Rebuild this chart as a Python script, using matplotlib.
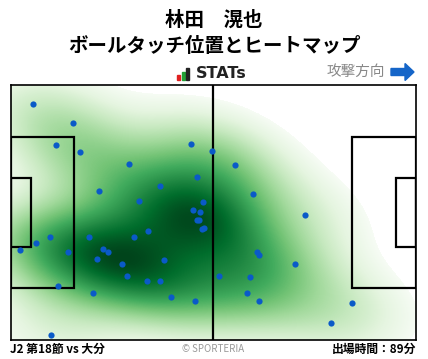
import numpy as np
import matplotlib
matplotlib.use("Agg")
from matplotlib import pyplot as plt
from matplotlib.patches import Rectangle, FancyArrow

plt.rcParams['font.family'] = ['Noto Sans CJK JP', 'DejaVu Sans']

# ball touch positions, pitch metres (x: own goal -> attacking goal, y: from bottom touchline)
touch_x = [5.8, 16.2, 11.8, 18.0, 30.7, 46.7, 52.2, 58.1, 48.3, 38.7,
           22.9, 62.8, 33.3, 49.8, 47.3, 49.1, 48.3, 48.8, 49.6, 50.1,
           76.2, 35.6, 32.0, 20.3, 10.2, 6.6, 2.5, 23.9, 25.2, 14.9,
           22.4, 28.9, 39.7, 63.8, 64.3, 73.7, 54.0, 62.0, 30.2, 35.3,
           38.7, 12.3, 21.4, 41.6, 47.8, 61.2, 64.3, 88.4, 83.0, 10.5]
touch_y = [62.9, 57.9, 52.0, 50.1, 46.9, 52.3, 50.4, 46.7, 43.5, 41.1,
           39.7, 38.9, 37.1, 36.8, 34.7, 34.1, 32.0, 32.0, 29.6, 29.9,
           33.3, 29.1, 27.5, 27.5, 27.5, 25.9, 24.0, 24.3, 23.5, 23.5,
           21.6, 20.3, 21.3, 23.5, 22.7, 20.3, 17.1, 16.8, 17.1, 15.7,
           15.7, 14.4, 12.5, 11.5, 10.4, 12.5, 10.4, 9.9, 4.5, 1.3]

player = "林田　滉也"
subtitle = "ボールタッチ位置とヒートマップ"
match_label = "J2 第18節 vs 大分"
minutes_label = "出場時間：89分"

L, W = 105.0, 68.0

fig = plt.figure(figsize=(4.28, 3.59), dpi=100)
ax = fig.add_axes([10.5/428, 19/359, 405.5/428, 255/359])

# gaussian kde (scott factor)
pts = np.vstack([touch_x, touch_y])
n = pts.shape[1]
cov = np.cov(pts) * (1.05 * n ** (-1.0 / 6)) ** 2
inv = np.linalg.inv(cov)
gx, gy = np.meshgrid(np.linspace(0, L, 810), np.linspace(0, W, 510))
grid = np.vstack([gx.ravel(), gy.ravel()])
dens = np.zeros(grid.shape[1])
for i in range(n):
    d = grid - pts[:, i:i+1]
    dens += np.exp(-0.5 * np.einsum('ij,ik,kj->j', d, inv, d))
dens = (dens / dens.max()).reshape(gx.shape)

thresh = 0.045
val = np.clip((dens - thresh) / (1 - thresh), 0, 1) ** 0.8
rgba = plt.get_cmap('Greens')(val)
rgba[dens < thresh, 3] = 0.0
ax.imshow(rgba, origin='lower', extent=[0, L, 0, W], aspect='auto',
          interpolation='nearest', zorder=1)

# pitch lines
lw = 1.6
ax.plot([L/2, L/2], [0, W], color='black', lw=lw, zorder=2)
for x0, w in [(0, 16.5), (L - 16.5, 16.5)]:
    ax.add_patch(Rectangle((x0, 13.85), w, 40.3, fill=False, ec='black', lw=lw, zorder=2))
for x0, w in [(0, 5.3), (L - 5.3, 5.3)]:
    ax.add_patch(Rectangle((x0, 24.85), w, 18.3, fill=False, ec='black', lw=lw, zorder=2))

ax.scatter(touch_x, touch_y, s=20, color='#0a5ac8', zorder=3, linewidths=0)

ax.set_xlim(0, L)
ax.set_ylim(0, W)
ax.set_xticks([])
ax.set_yticks([])
for sp in ax.spines.values():
    sp.set_linewidth(1.2)

# header
fig.text(214/428, 1 - 20/359, player, ha='center', va='center', fontsize=14, fontweight='bold')
fig.text(214/428, 1 - 46/359, subtitle, ha='center', va='center', fontsize=14, fontweight='bold')

# STATs logo
for bx, bh, c in [(177, 5, '#e02020'), (181.5, 8, '#22a035'), (186, 12, '#222222')]:
    fig.add_artist(Rectangle((bx/428, 1 - 80/359), 3/428, bh/359, color=c, transform=fig.transFigure))
fig.text(196/428, 1 - 74/359, "STATs", ha='left', va='center', fontsize=11.5,
         fontweight='bold', family='DejaVu Sans', color='#222222')

fig.text(385/428, 1 - 72/359, "攻撃方向", ha='right', va='center', fontsize=10.5, color='#888888')
fig.add_artist(FancyArrow(391/428, 1 - 72/359, 23/428, 0, width=7/359, head_width=17/359,
                          head_length=9/428, length_includes_head=True, color='#1565c8',
                          transform=fig.transFigure))

# footer
fig.text(10/428, 1 - 349/359, match_label, ha='left', va='center', fontsize=8.5, fontweight='bold')
fig.text(213/428, 1 - 349/359, "© SPORTERIA", ha='center', va='center', fontsize=7, color='#999999')
fig.text(416/428, 1 - 349/359, minutes_label, ha='right', va='center', fontsize=8.5, fontweight='bold')

fig.savefig('out.png', dpi=100)
